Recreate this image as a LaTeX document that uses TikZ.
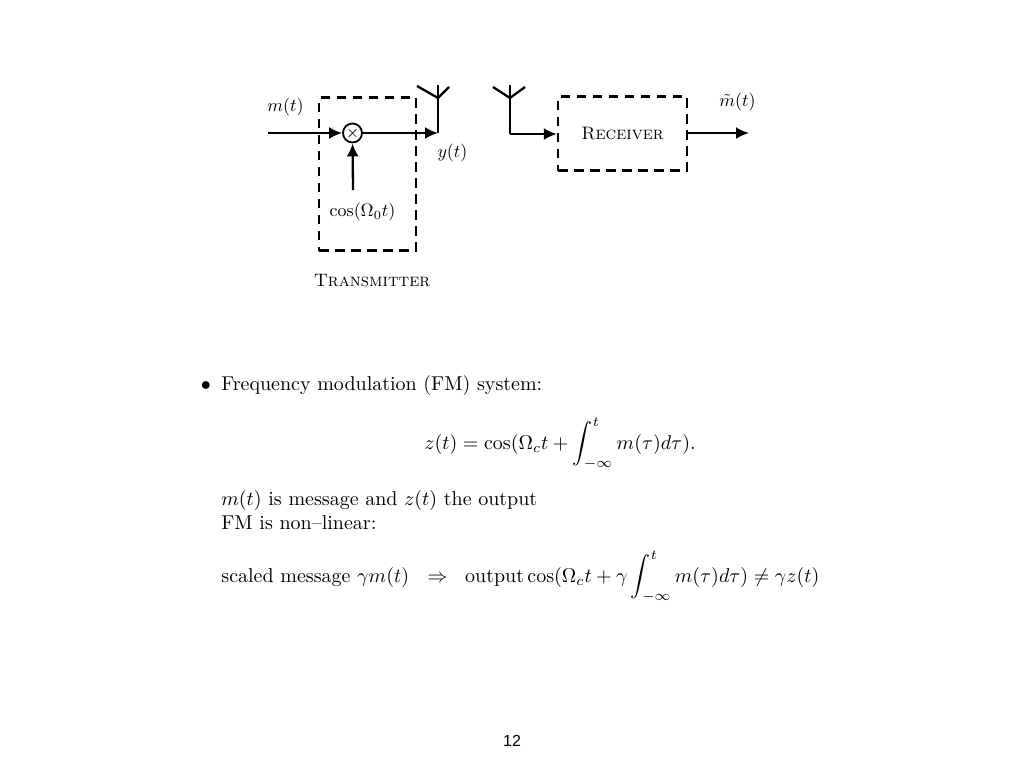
\documentclass[tikz,border=0pt]{standalone}
\usepackage{amsmath}
\usepackage{fontspec}
\newfontfamily\pagefont{Liberation Sans}
\usetikzlibrary{arrows.meta,calc}
\tikzset{
  sig/.style={line width=2.3pt,-{Latex[length=13pt,width=12pt]}},
  wire/.style={line width=2.3pt},
  dashbox/.style={draw,line width=2.3pt,dash pattern=on 9.5pt off 6.5pt,inner sep=0pt},
  lab/.style={inner sep=0pt,scale=1.8,transform shape},
  body/.style={anchor=base west,inner sep=0pt,scale=2,transform shape},
}
\begin{document}
\begin{tikzpicture}[x=1pt,y=-1pt]
  \useasboundingbox (0,0) rectangle (1024,768);
  % transmitter
  \node[dashbox,minimum width=97pt,minimum height=153pt] (tx) at (367.5,174) {};
  \node[draw,circle,line width=1.8pt,minimum size=19pt,inner sep=0pt] (mix) at (352.5,133) {};
  \draw[line width=0.7pt] ($(mix.north west)+(3.5,3.5)$) -- ($(mix.south east)+(-3.5,-3.5)$);
  \draw[line width=0.7pt] ($(mix.south west)+(3.5,-3.5)$) -- ($(mix.north east)+(-3.5,3.5)$);
  \coordinate (min) at (268,133);
  \coordinate (cin) at (353,190);
  \coordinate (ant1) at (438,133);
  \coordinate (top1) at (438,85);
  \coordinate (fork1) at (438,98);
  \draw[sig] (min) -- (mix);
  \draw[sig] (cin) -- (mix);
  \draw[sig] (mix) -- (ant1);
  \draw[wire] (ant1) -- (top1);
  \draw[wire] (417,86) -- (fork1) -- (449,87);
  \node[lab] (mlab) at (285.5,106.5) {$m(t)$};
  \node[lab] (ylab) at (452.5,153) {$y(t)$};
  \node[lab] (coslab) at (362.5,212) {$\cos(\Omega_0 t)$};
  \node[lab] (txlab) at (372,281) {\textsc{Transmitter}};
  % receiver
  \node[dashbox,minimum width=129pt,minimum height=74pt] (rx) at (622.5,133.5) {};
  \node[lab] (rxlab) at (rx.center) {\textsc{Receiver}};
  \coordinate (ant2) at (510,134);
  \coordinate (top2) at (510,85);
  \coordinate (fork2) at (510,98);
  \coordinate (mout) at (749,133);
  \draw[wire] (top2) -- (ant2);
  \draw[wire] (493,87) -- (fork2) -- (525,87);
  \draw[sig] (ant2) -- (rx.west |- ant2);
  \draw[sig] (rx.east |- mout) -- (mout);
  \node[lab] (mtlab) at (737.5,101.5) {$\tilde m(t)$};
  % text
  \node[body] (dot) at (200.5,390) {$\bullet$};
  \node[body] (fm) at (221,390) {Frequency modulation (FM) system:};
  \node[body] (zeq) at (424,449) {$\displaystyle z(t)=\cos(\Omega_c t+\int_{-\infty}^{t} m(\tau)d\tau).$};
  \node[body] (msg) at (221,505) {$m(t)$ is message and $z(t)$ the output};
  \node[body] (nl) at (221,529) {FM is non--linear:};
  \node[body] (scl) at (221,582) {scaled message $\gamma m(t)\hspace{6.5pt}\Rightarrow\hspace{6pt}\text{output}\cos(\Omega_c t+\gamma\displaystyle\int_{-\infty}^{t} m(\tau)d\tau)\neq\gamma z(t)$};
  \node[inner sep=0pt,font=\pagefont\fontsize{16}{18}\selectfont] (pg) at (512,740.5) {12};
\end{tikzpicture}
\end{document}
